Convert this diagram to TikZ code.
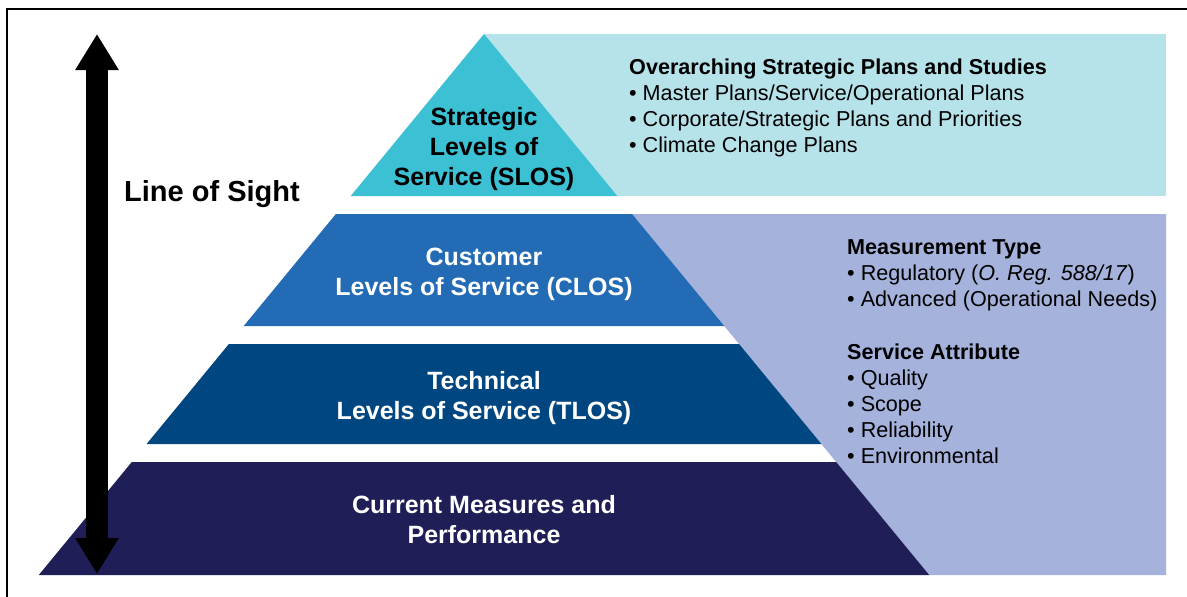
\documentclass[tikz,border=0pt]{standalone}
\usepackage{fontspec}
\setmainfont{Liberation Sans}
\usetikzlibrary{arrows.meta}
\definecolor{slosc}{HTML}{3BC0D4}
\definecolor{slosbg}{HTML}{B6E2EA}
\definecolor{closc}{HTML}{236BB5}
\definecolor{tlosc}{HTML}{004681}
\definecolor{curc}{HTML}{1F1E56}
\definecolor{purplebg}{HTML}{A5B3DC}
\tikzset{
  lvltext/.style={font=\bfseries\fontsize{25}{30}\selectfont, align=center, inner sep=0pt, anchor=base},
  sidetext/.style={font=\fontsize{21.6}{26}\selectfont, align=left, inner sep=0pt, anchor=base west, text=black},
}
\begin{document}
\begin{tikzpicture}[x=1pt,y=-1pt]
\useasboundingbox (0,0) rectangle (1187,597);
\fill[white] (0,0) rectangle (1187,597);
% frame
\draw[line width=2pt] (7,597) -- (7,9) -- (1187,9);
% backgrounds
\fill[slosbg] (484,34) rectangle (1166,196);
\fill[purplebg] (632.1,214) -- (1166,214) -- (1166,575) -- (929.2,575) -- cycle;
% pyramid layers
\fill[slosc] (484,34) -- (617.3,196) -- (350.7,196) -- cycle;
\fill[closc] (335.9,214) -- (632.1,214) -- (724.3,326) -- (243.7,326) -- cycle;
\fill[tlosc] (228.9,344) -- (739.1,344) -- (821.4,444) -- (146.6,444) -- cycle;
\fill[curc] (131.8,462) -- (836.2,462) -- (929.2,575) -- (38.8,575) -- cycle;
% labels in pyramid (anchored at last baseline)
\node[lvltext, text=black] (slos) at (484,185) {Strategic\\Levels of\\Service (SLOS)};
\node[lvltext, text=white] (clos) at (484,295) {Customer\\Levels of Service (CLOS)};
\node[lvltext, text=white] (tlos) at (484,419) {Technical\\Levels of Service (TLOS)};
\node[lvltext, text=white] (cur) at (484,543) {Current Measures and\\Performance};
% side texts (anchored at last baseline)
\node[sidetext] (strat) at (629,152) {\textbf{Overarching Strategic Plans and Studies}\\
  • Master Plans/Service/Operational Plans\\
  • Corporate/Strategic Plans and Priorities\\
  • Climate Change Plans};
\node[sidetext] (meas) at (847,306) {\textbf{Measurement Type}\\
  • Regulatory (\textit{O. Reg. 588/17})\\
  • Advanced (Operational Needs)};
\node[sidetext] (attr) at (847,463) {\textbf{Service Attribute}\\
  • Quality\\
  • Scope\\
  • Reliability\\
  • Environmental};
% line of sight
\node[font=\bfseries\fontsize{29}{34}\selectfont, inner sep=0pt, anchor=base west] (los) at (124,201) {Line of Sight};
\coordinate (atop) at (97,34);
\coordinate (abot) at (97,574);
\draw[line width=22pt, {Triangle[width=41pt,length=36pt]}-{Triangle[width=41pt,length=36pt]}] (abot) -- (atop);
\end{tikzpicture}
\end{document}
